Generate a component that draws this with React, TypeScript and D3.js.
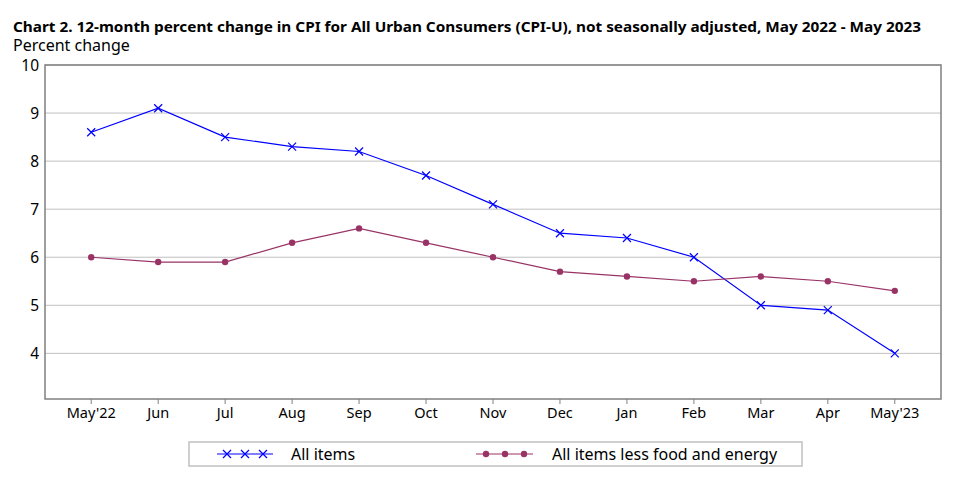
import { useEffect, useRef } from "react"
import * as d3 from "d3"

const months = ["May'22", "Jun", "Jul", "Aug", "Sep", "Oct", "Nov", "Dec", "Jan", "Feb", "Mar", "Apr", "May'23"]
const allItems = [8.6, 9.1, 8.5, 8.3, 8.2, 7.7, 7.1, 6.5, 6.4, 6.0, 5.0, 4.9, 4.0]
const coreItems = [6.0, 5.9, 5.9, 6.3, 6.6, 6.3, 6.0, 5.7, 5.6, 5.5, 5.6, 5.5, 5.3]
const yTicks = [4, 5, 6, 7, 8, 9, 10]

const FONT = "'Noto Sans', 'DejaVu Sans', sans-serif"

export default function App() {
  const svgRef = useRef<SVGSVGElement>(null)

  useEffect(() => {
    if (!svgRef.current) return
    const svg = d3.select(svgRef.current)
    svg.selectAll("*").remove()

    const left = 45, right = 941, top = 65, bottom = 399

    const x = d3.scalePoint<string>().domain(months).range([left, right]).padding(0.69)
    const y = d3.scaleLinear().domain([3.05, 10]).range([bottom, top])

    // Title
    svg.append("text")
      .attr("x", 13).attr("y", 32)
      .attr("font-family", FONT).attr("font-size", 15).attr("font-weight", "bold")
      .attr("fill", "#000")
      .attr("textLength", 908).attr("lengthAdjust", "spacingAndGlyphs")
      .text("Chart 2. 12-month percent change in CPI for All Urban Consumers (CPI-U), not seasonally adjusted, May 2022 - May 2023")

    svg.append("text")
      .attr("x", 13).attr("y", 51)
      .attr("font-family", FONT).attr("font-size", 16)
      .text("Percent change")

    // grid lines
    svg.append("g")
      .selectAll("line")
      .data(yTicks)
      .enter()
      .append("line")
      .attr("x1", left).attr("x2", right)
      .attr("y1", (d) => y(d)).attr("y2", (d) => y(d))
      .attr("stroke", "#c0c0c0").attr("stroke-width", 1)

    // Y labels
    svg.append("g")
      .selectAll("text")
      .data(yTicks)
      .enter()
      .append("text")
      .attr("x", 39).attr("y", (d) => y(d))
      .attr("dy", "0.36em")
      .attr("text-anchor", "end")
      .attr("font-family", FONT).attr("font-size", 15.5)
      .text((d) => d)

    // Frame
    svg.append("rect")
      .attr("x", left).attr("y", top)
      .attr("width", right - left).attr("height", bottom - top)
      .attr("fill", "none").attr("stroke", "#808080").attr("stroke-width", 1.5)

    // X axis ticks + labels
    const xg = svg.append("g")
    xg.selectAll("line")
      .data(months)
      .enter()
      .append("line")
      .attr("x1", (d) => x(d)!).attr("x2", (d) => x(d)!)
      .attr("y1", bottom).attr("y2", bottom + 5)
      .attr("stroke", "#808080")
    xg.selectAll("text")
      .data(months)
      .enter()
      .append("text")
      .attr("x", (d) => x(d)!).attr("y", 418)
      .attr("text-anchor", "middle")
      .attr("font-family", FONT).attr("font-size", 14.5)
      .text((d) => d)

    const line = d3.line<number>()
      .x((_, i) => x(months[i])!)
      .y((d) => y(d))

    // All items
    svg.append("path")
      .datum(allItems)
      .attr("d", line)
      .attr("fill", "none").attr("stroke", "#0000ff").attr("stroke-width", 1.2)

    const cross = (g: d3.Selection<SVGGElement, unknown, null, undefined>, cx: number, cy: number) => {
      g.append("path")
        .attr("d", `M${cx - 4},${cy - 4}L${cx + 4},${cy + 4}M${cx - 4},${cy + 4}L${cx + 4},${cy - 4}`)
        .attr("stroke", "#0000ff").attr("stroke-width", 1.2)
    }
    const marks = svg.append("g")
    allItems.forEach((d, i) => cross(marks, x(months[i])!, y(d)))

    // Core
    svg.append("path")
      .datum(coreItems)
      .attr("d", line)
      .attr("fill", "none").attr("stroke", "#993366").attr("stroke-width", 1.2)
    svg.append("g")
      .selectAll("circle")
      .data(coreItems)
      .enter()
      .append("circle")
      .attr("cx", (_, i) => x(months[i])!).attr("cy", (d) => y(d))
      .attr("r", 3.2).attr("fill", "#993366")

    // Legend
    const lg = svg.append("g")
    lg.append("rect")
      .attr("x", 189).attr("y", 442).attr("width", 613).attr("height", 24)
      .attr("fill", "#fff").attr("stroke", "#c0c0c0").attr("stroke-width", 1.5)
    const ly = 454
    lg.append("line").attr("x1", 217).attr("x2", 273).attr("y1", ly).attr("y2", ly)
      .attr("stroke", "#0000ff").attr("stroke-width", 1.2)
    ;[227, 245, 263].forEach((cx) => cross(lg, cx, ly))
    lg.append("text").attr("x", 291).attr("y", ly).attr("dy", "0.36em")
      .attr("font-family", FONT).attr("font-size", 16).text("All items")

    lg.append("line").attr("x1", 476).attr("x2", 533).attr("y1", ly).attr("y2", ly)
      .attr("stroke", "#993366").attr("stroke-width", 1.2)
    ;[486, 505, 524].forEach((cx) =>
      lg.append("circle").attr("cx", cx).attr("cy", ly).attr("r", 3.2).attr("fill", "#993366"))
    lg.append("text").attr("x", 552).attr("y", ly).attr("dy", "0.36em")
      .attr("font-family", FONT).attr("font-size", 16).text("All items less food and energy")
  }, [])

  return (
    <div style={{ width: 940, height: 467 }}>
      <svg ref={svgRef} width={940} height={467} style={{ display: "block", marginLeft: -8, marginTop: -8 }} viewBox="0 0 940 467" overflow="visible"></svg>
    </div>
  )
}
